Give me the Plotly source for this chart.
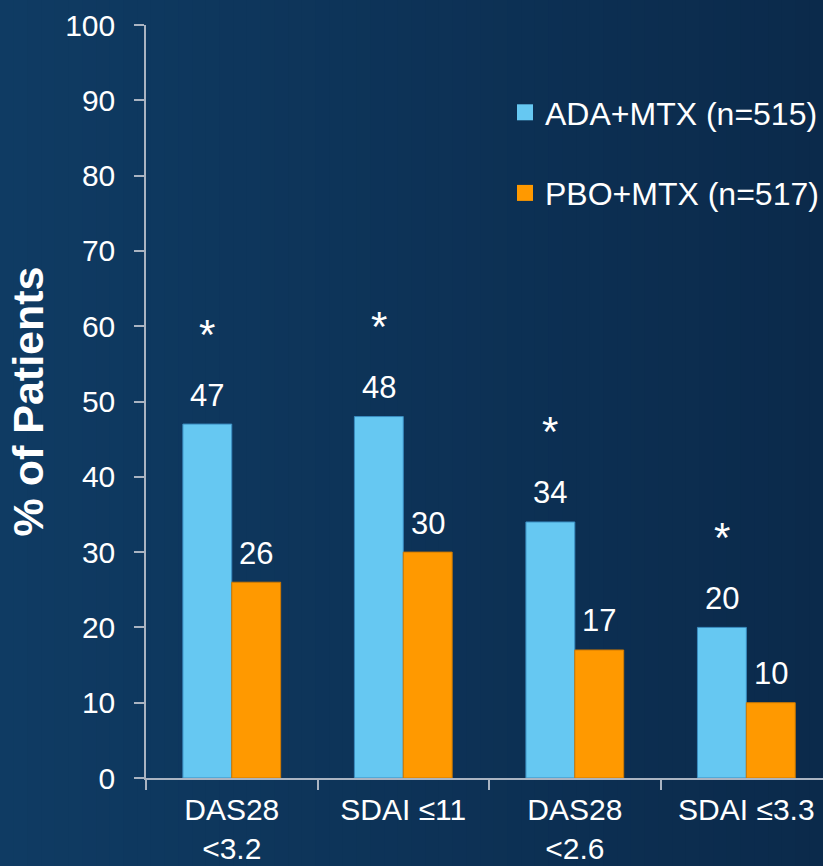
import plotly.graph_objects as go

# Remission criteria and response rates (% of patients)
categories = ["DAS28 <3.2", "SDAI ≤11", "DAS28 <2.6", "SDAI ≤3.3"]
tick_text = ["DAS28<br>&lt;3.2", "SDAI ≤11", "DAS28<br>&lt;2.6", "SDAI ≤3.3"]
ada_mtx = [47, 48, 34, 20]
pbo_mtx = [26, 30, 17, 10]
significant = [True, True, True, True]
series_names = ["ADA+MTX (n=515)", "PBO+MTX (n=517)"]
y_ticks = list(range(0, 101, 10))

W, H = 823, 866
M_L, M_R, M_T, M_B = 146, 0, 25, 88
X_RANGE = [-0.5, 3.447]
BARGAP = 0.43
FONT = "Arial, Liberation Sans, sans-serif"
BLUE, ORANGE = "#66c8f2", "#ff9900"
AXIS = "#aab4c2"

plot_w = W - M_L - M_R
plot_h = H - M_T - M_B
px_per_cat = plot_w / (X_RANGE[1] - X_RANGE[0])
bar_px = (1 - BARGAP) / 2 * px_per_cat

fig = go.Figure()
fig.add_trace(go.Bar(x=categories, y=ada_mtx, name=series_names[0], showlegend=False,
                     marker=dict(color=BLUE, line=dict(color="#3a8cc0", width=1))))
fig.add_trace(go.Bar(x=categories, y=pbo_mtx, name=series_names[1], showlegend=False,
                     marker=dict(color=ORANGE, line=dict(color="#d07a00", width=1))))
# Legend entries with larger square swatches
for name, col, grp in ((series_names[0], BLUE, "a"), (series_names[1], ORANGE, "b")):
    fig.add_trace(go.Scatter(x=[None], y=[None], mode="markers", name=name, legendgroup=grp,
                             marker=dict(symbol="square", size=16, color=col)))

# Horizontal background gradient built from thin strips
c0, c1 = (15, 59, 99), (11, 42, 75)
n = 60
span_l = -M_L / plot_w
span_r = 1 + M_R / plot_w
shapes = []
for i in range(n):
    t = i / (n - 1)
    col = tuple(round(a + (b - a) * t) for a, b in zip(c0, c1))
    x0 = span_l + (span_r - span_l) * i / n
    x1 = span_l + (span_r - span_l) * (i + 1) / n + 0.002
    shapes.append(dict(type="rect", xref="paper", yref="paper", x0=x0, x1=x1,
                       y0=-M_B / plot_h - 0.01, y1=1 + M_T / plot_h + 0.01,
                       fillcolor="rgb(%d,%d,%d)" % col, line=dict(width=0), layer="below"))

annotations = []
for cat, a, p, sig in zip(categories, ada_mtx, pbo_mtx, significant):
    for v, dx in ((a, -bar_px / 2), (p, bar_px / 2)):
        annotations.append(dict(x=cat, y=v, xref="x", yref="y", text=str(v), showarrow=False,
                                xshift=dx, yshift=29, yanchor="middle",
                                font=dict(family=FONT, size=31, color="white")))
    if sig:
        annotations.append(dict(x=cat, y=a, xref="x", yref="y", text="*", showarrow=False,
                                xshift=-bar_px / 2, yshift=90, yanchor="middle",
                                font=dict(family=FONT, size=42, color="white")))

fig.update_layout(
    width=W, height=H,
    margin=dict(l=M_L, r=M_R, t=M_T, b=M_B, autoexpand=False),
    paper_bgcolor="rgb(13,50,87)", plot_bgcolor="rgba(0,0,0,0)",
    barmode="group", bargap=BARGAP, bargroupgap=0,
    font=dict(family=FONT, size=30, color="white"),
    shapes=shapes, annotations=annotations,
    showlegend=True,
    legend=dict(x=(505 - M_L) / plot_w, y=1 - (85 - M_T) / plot_h,
                xanchor="left", yanchor="top", bgcolor="rgba(0,0,0,0)",
                font=dict(family=FONT, size=32, color="white"), tracegroupgap=36),
    xaxis=dict(range=X_RANGE, tickmode="array", tickvals=categories, ticktext=tick_text,
               showline=True, linecolor=AXIS, linewidth=1.5, ticks="outside", tickson="boundaries",
               ticklen=10, tickcolor=AXIS, tickwidth=1.5, showgrid=False, zeroline=False,
               ticklabelstandoff=4, automargin=False,
               tickfont=dict(family=FONT, size=30, color="white")),
    yaxis=dict(range=[0, 100], tickmode="array", tickvals=y_ticks, showline=True,
               linecolor=AXIS, linewidth=1.5, ticks="outside", ticklen=10, tickcolor=AXIS,
               tickwidth=1.5, showgrid=False, zeroline=False, ticklabelstandoff=13,
               automargin=False,
               tickfont=dict(family=FONT, size=30, color="white"),
               title=dict(text="<b>% of Patients</b>", standoff=8,
                          font=dict(family=FONT, size=43, color="white"))),
)

fig.write_html("out.html")
